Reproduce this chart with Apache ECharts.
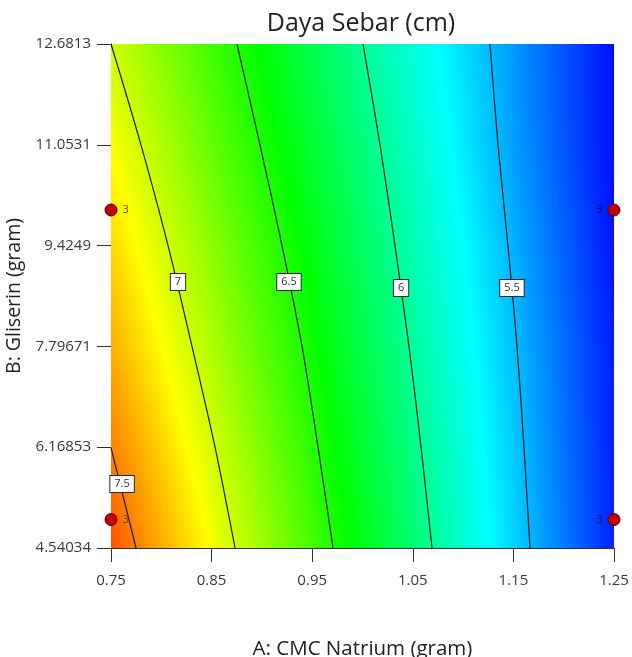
<!DOCTYPE html>
<html>
<head>
<meta charset="utf-8">
<script src="https://cdn.jsdelivr.net/npm/echarts@6/dist/echarts.min.js"></script>
<style>
  html, body { margin: 0; padding: 0; background: #fff; }
  #chart { width: 632px; height: 657px; }
</style>
</head>
<body>
<div id="chart"></div>
<script>
// grid of the response surface
const gridA = [0.75, 0.85, 0.95, 1.05, 1.15, 1.25]
const gridB = [4.54034, 6.16853, 7.79671, 9.4249, 11.0531, 12.6813]
const yTickLabels = ['4.54034', '6.16853', '7.79671', '9.4249', '11.0531', '12.6813']
// Daya Sebar (cm) per B row (bottom to top), per A column
const spreadRows = [
  [7.63, 7.12, 6.61, 6.10, 5.58, 5.07],
  [7.50, 7.02, 6.53, 6.04, 5.55, 5.06],
  [7.37, 6.91, 6.45, 5.98, 5.52, 5.05],
  [7.25, 6.81, 6.37, 5.92, 5.48, 5.03],
  [7.13, 6.70, 6.28, 5.86, 5.43, 5.01],
  [7.00, 6.60, 6.20, 5.80, 5.41, 5.01]
]

// contour lines [A, B]
const contour75 = [[0.75, 6.16], [0.7749, 4.54034]]
const contour7 = [[0.75, 12.6813], [0.7798, 11.0531], [0.8067, 9.4249], [0.8305, 7.79671], [0.8534, 6.16853], [0.8733, 4.54034]]
const contour65 = [[0.8752, 12.6813], [0.8981, 11.0531], [0.92, 9.4249], [0.9399, 7.79671], [0.9558, 6.16853], [0.9707, 4.54034]]
const contour6 = [[1.0005, 12.6813], [1.0174, 11.0531], [1.0323, 9.4249], [1.0462, 7.79671], [1.0582, 6.16853], [1.0691, 4.54034]]
const contour55 = [[1.1267, 12.6813], [1.1347, 11.0531], [1.1446, 9.4249], [1.1536, 7.79671], [1.1605, 6.16853], [1.1665, 4.54034]]

// contour labels [A, B, text]
const contourLabels = [
  [0.761, 5.574, '7.5'],
  [0.8166, 8.837, '7'],
  [0.9269, 8.837, '6.5'],
  [1.0383, 8.74, '6'],
  [1.1486, 8.74, '5.5']
]

// design points [A, B, replicates]
const designPoints = [
  [0.75, 10.0, '3'],
  [0.75, 5.0, '3'],
  [1.25, 10.0, '3'],
  [1.25, 5.0, '3']
]

// colour scale
const scaleValues = [4.98, 5.70, 6.42, 7.14, 7.86]
const scaleColors = [[0, 0, 255], [0, 255, 255], [0, 255, 0], [255, 255, 0], [255, 0, 0]]

function colorOf(v) {
  if (v <= scaleValues[0]) return scaleColors[0]
  for (let k = 1; k < scaleValues.length; k++) {
    if (v <= scaleValues[k]) {
      const f = (v - scaleValues[k - 1]) / (scaleValues[k] - scaleValues[k - 1])
      const a = scaleColors[k - 1], b = scaleColors[k]
      return [0, 1, 2].map(c => Math.round(a[c] + (b[c] - a[c]) * f))
    }
  }
  return scaleColors[scaleColors.length - 1]
}
function rgb(c) { return 'rgb(' + c.join(',') + ')' }

function gradientStops(vl, vr) {
  const stops = [{ offset: 0, color: rgb(colorOf(vl)) }]
  const lo = Math.min(vl, vr), hi = Math.max(vl, vr)
  scaleValues.forEach(s => {
    if (s > lo && s < hi) {
      stops.push({ offset: (s - vl) / (vr - vl), color: rgb(colorOf(s)) })
    }
  })
  stops.push({ offset: 1, color: rgb(colorOf(vr)) })
  stops.sort((a, b) => a.offset - b.offset)
  return stops
}

const cells = []
for (let j = 0; j < gridB.length - 1; j++) {
  for (let i = 0; i < gridA.length - 1; i++) cells.push([i, j])
}

function renderCell(params, api) {
  const i = api.value(0), j = api.value(1)
  const pBL = api.coord([gridA[i], gridB[j]])
  const pTR = api.coord([gridA[i + 1], gridB[j + 1]])
  const x0 = pBL[0], x1 = pTR[0], yb = pBL[1], yt = pTR[1]
  const vBL = spreadRows[j][i], vBR = spreadRows[j][i + 1]
  const vTL = spreadRows[j + 1][i], vTR = spreadRows[j + 1][i + 1]
  const n = 40
  const children = []
  for (let k = 0; k < n; k++) {
    const t = (k + 0.5) / n
    const vl = vTL + (vBL - vTL) * t
    const vr = vTR + (vBR - vTR) * t
    const y = yt + (yb - yt) * k / n
    children.push({
      type: 'rect',
      shape: { x: x0, y: y, width: x1 - x0 + 1, height: (yb - yt) / n + 1 },
      style: { fill: new echarts.graphic.LinearGradient(0, 0, 1, 0, gradientStops(vl, vr)) }
    })
  }
  return { type: 'group', children: children }
}

function contourSeries(data) {
  return {
    type: 'line',
    data: data,
    smooth: 0.3,
    symbol: 'none',
    silent: true,
    z: 3,
    lineStyle: { color: '#1a1a1a', width: 1.2 }
  }
}

const chart = echarts.init(document.getElementById('chart'))
const axisFont = { fontFamily: 'Open Sans', fontSize: 15, color: '#3a3a3a' }

chart.setOption({
  animation: false,
  title: {
    text: 'Daya Sebar (cm)',
    left: 356,
    top: 6,
    textAlign: 'center',
    textStyle: { fontFamily: 'Open Sans', fontSize: 25, fontWeight: 'normal', color: '#222' }
  },
  grid: { left: 111, right: 18, top: 44, bottom: 109, containLabel: false, outerBoundsMode: 'none' },
  xAxis: {
    type: 'value',
    min: 0.75,
    max: 1.25,
    interval: 0.1,
    name: 'A: CMC Natrium (gram)',
    nameLocation: 'middle',
    nameGap: 91,
    nameTextStyle: { fontFamily: 'Open Sans', fontSize: 20.5, color: '#222' },
    axisLine: { show: true, onZero: false, lineStyle: { color: '#333', width: 1 } },
    axisTick: { show: true, length: 14, lineStyle: { color: '#333' } },
    axisLabel: { ...axisFont, margin: 25, formatter: v => v.toFixed(2) },
    splitLine: { show: false }
  },
  yAxis: {
    type: 'value',
    min: gridB[0],
    max: gridB[gridB.length - 1],
    interval: (gridB[gridB.length - 1] - gridB[0]) / 5,
    name: 'B: Gliserin (gram)',
    nameLocation: 'middle',
    nameGap: 77,
    nameTextStyle: { fontFamily: 'Open Sans', fontSize: 19.5, color: '#222' },
    axisLine: { show: true, onZero: false, lineStyle: { color: '#333', width: 1 } },
    axisTick: { show: true, length: 14, lineStyle: { color: '#333' } },
    axisLabel: { ...axisFont, margin: 20, formatter: (v, idx) => yTickLabels[idx] },
    splitLine: { show: false }
  },
  series: [
    {
      type: 'custom',
      data: cells,
      renderItem: renderCell,
      clip: true,
      silent: true,
      z: 1
    },
    contourSeries(contour75),
    contourSeries(contour7),
    contourSeries(contour65),
    contourSeries(contour6),
    contourSeries(contour55),
    {
      type: 'scatter',
      data: contourLabels.map(d => ({ value: [d[0], d[1]], name: d[2] })),
      symbolSize: 1,
      silent: true,
      z: 5,
      itemStyle: { opacity: 1, color: 'transparent' },
      label: {
        show: true,
        position: 'inside',
        formatter: p => p.name,
        fontFamily: 'Open Sans',
        fontSize: 11,
        color: '#333',
        backgroundColor: '#ffffff',
        borderColor: '#2a2a2a',
        borderWidth: 1,
        padding: [3, 4, 2, 4]
      }
    },
    {
      type: 'scatter',
      data: designPoints.map(d => ({
        value: [d[0], d[1]],
        name: d[2],
        label: d[0] < 1
          ? { position: 'right', offset: [-3, 5], color: '#6a3a00' }
          : { position: 'left', offset: [2, 0], color: '#10104a' }
      })),
      symbol: 'circle',
      symbolSize: 12,
      clip: false,
      silent: true,
      z: 6,
      itemStyle: { opacity: 1, color: '#c00000', borderColor: '#5a0000', borderWidth: 1 },
      labelLayout: { hideOverlap: false },
      label: {
        show: true,
        formatter: p => p.name,
        fontFamily: 'Open Sans',
        fontSize: 11
      }
    }
  ]
})
</script>
</body>
</html>
